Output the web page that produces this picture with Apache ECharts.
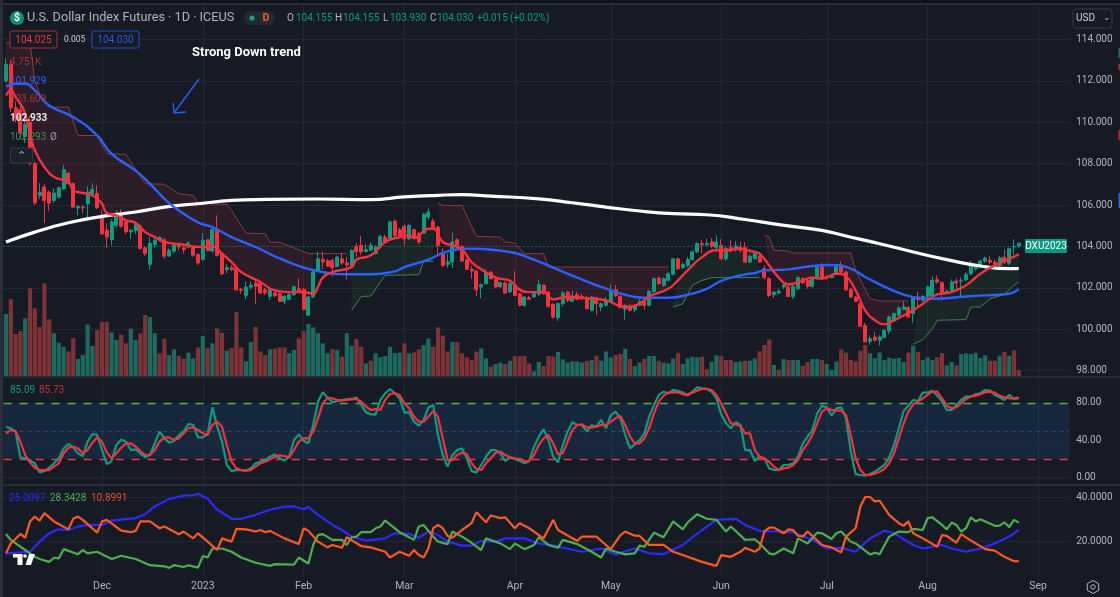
<!DOCTYPE html>
<html>
<head>
<meta charset="utf-8">
<style>html,body{margin:0;padding:0;background:#161a25}#chart{width:1120px;height:597px}</style>
<script src="https://cdn.jsdelivr.net/npm/echarts@6/dist/echarts.min.js"></script>
</head>
<body>
<div id="chart"></div>
<script>
// time axis: bar number of each month start and its label
var monthBars = [20, 41, 62, 83, 106, 126, 149, 171, 192, 215];
var monthTicks = ['Dec', '2023', 'Feb', 'Mar', 'Apr', 'May', 'Jun', 'Jul', 'Aug', 'Sep'];
var lastPrice = 104.03;
var stochHigh = 80, stochMid = 50, stochLow = 20;

// open, close, low, high
var candles = [
[112.0,112.8,111.9,113.1],[112.8,110.7,110.5,113.0],[110.7,110.2,110.0,111.0],[110.6,109.5,109.2,110.8],[109.3,109.9,109.0,110.3],
[110.0,108.0,107.9,110.3],[108.0,106.1,106.0,108.1],[106.46,106.62,106.3,107.06],[106.87,106.22,105.13,107.03],[106.62,106.09,105.7,106.7],
[106.22,106.58,106.1,106.8],[106.38,106.83,106.3,106.9],[106.79,107.7,106.75,107.95],[107.54,107.03,107.0,107.6],[107.03,105.9,105.85,107.1],
[105.85,105.93,105.5,106.0],[105.9,105.85,105.6,106.0],[106.06,106.62,105.22,106.9],[106.5,106.75,106.4,107.05],[106.55,105.87,105.8,106.95],
[105.5,104.6,104.6,105.75],[104.78,104.45,103.93,105.1],[104.32,105.18,104.05,105.3],[105.01,105.58,104.9,105.75],[105.55,104.97,104.9,105.78],
[105.18,104.7,104.6,105.3],[104.69,104.77,104.37,104.85],[104.77,105.1,104.6,105.2],[104.97,103.89,103.85,105.05],[103.93,103.65,103.55,104.0],
[103.13,104.16,102.87,104.45],[104.08,104.29,103.9,104.5],[104.32,104.42,104.3,104.5],[104.32,103.52,103.4,104.4],[103.53,103.8,103.5,103.9],
[103.77,104.13,103.65,104.2],[104.05,103.97,103.8,104.2],[103.93,103.84,103.65,104.05],[103.97,104.16,103.9,104.25],[103.97,103.57,103.5,104.05],
[103.61,103.2,103.1,103.65],[103.37,104.29,103.3,104.65],[104.32,103.8,103.75,104.35],[103.77,104.81,103.7,104.95],[104.81,103.57,103.5,105.5],
[103.65,102.68,102.6,103.7],[102.87,102.97,102.7,103.13],[102.97,102.87,102.8,103.1],[102.92,101.9,101.85,103.0],[101.92,101.87,101.7,102.0],
[101.63,102.03,101.45,102.3],[102.03,102.12,101.9,102.3],[102.23,102.07,101.23,102.4],[102.2,101.75,101.7,102.25],[101.9,101.75,101.65,102.0],
[101.58,101.94,101.4,102.0],[101.75,101.62,101.55,101.9],[101.71,101.34,101.3,101.8],[101.34,101.58,101.2,101.65],[101.44,101.67,101.4,101.75],
[101.67,102.04,101.6,102.12],[101.95,101.83,101.78,102.45],[101.92,100.96,100.9,102.0],[100.67,101.55,100.65,101.6],[101.55,102.76,101.5,102.8],
[102.84,103.4,102.8,103.75],[103.36,103.25,102.9,103.75],[103.3,103.05,103.0,103.4],[103.32,102.97,102.55,103.4],[103.03,103.48,103.0,103.55],
[103.4,103.2,103.1,103.7],[103.2,103.1,102.4,103.5],[103.03,103.8,103.0,103.85],[104.0,103.75,103.5,104.15],[104.05,103.73,103.6,104.5],
[103.75,103.85,103.7,104.1],[103.82,104.05,103.75,104.2],
[103.65,103.97,103.6,104.05],[103.97,104.48,103.9,104.55],[104.45,104.21,104.15,104.55],[104.4,105.18,104.35,105.25],[105.21,104.53,104.45,105.3],
[104.8,104.53,104.45,104.9],[104.97,104.37,104.05,105.05],[104.37,105.01,104.3,105.1],[104.8,104.45,104.4,104.85],[104.61,104.21,104.1,104.7],
[104.64,105.55,104.6,105.6],[105.42,105.66,105.3,105.83],[105.22,104.9,104.85,105.35],[104.93,104.05,103.57,105.0],[103.7,103.08,103.0,103.9],
[103.13,103.24,102.97,103.65],[103.24,104.21,102.97,104.66],[104.32,104.05,104.0,104.4],[104.0,103.29,103.25,104.05],[103.36,102.9,102.85,103.4],
[102.9,102.81,102.45,103.05],[102.81,101.9,101.6,102.85],[102.04,102.15,101.5,102.2],[102.2,102.74,102.15,102.9],[102.76,102.44,102.4,102.8],
[102.39,102.04,102.0,102.45],[102.04,102.25,102.0,102.3],[102.23,101.75,101.7,102.3],[101.8,102.2,101.75,102.25],[102.12,101.63,101.58,102.8],
[101.71,101.15,101.1,101.75],[101.15,101.55,101.07,101.6],[101.52,101.44,101.4,101.6],[101.55,101.71,101.5,101.75],[101.68,102.16,101.6,102.4],
[102.12,101.71,101.65,102.15],[101.79,101.1,101.03,101.85],[101.2,100.59,100.5,101.25],[100.55,101.23,100.4,101.3],[101.23,101.75,101.1,101.85],
[101.79,101.39,101.3,101.85],[101.34,101.6,101.3,101.87],[101.66,101.44,101.4,101.8],[101.58,101.47,101.4,101.7],[101.52,100.99,100.95,101.6],
[100.91,101.55,100.85,101.6],[101.52,101.23,100.67,101.55],[101.07,101.23,100.87,101.3],[101.15,101.34,101.1,101.55],[101.34,101.9,101.3,102.15],
[101.9,101.63,101.55,102.13],[101.58,101.04,101.0,101.65],[100.96,101.15,100.46,101.2],[101.1,100.91,100.85,101.2],[100.94,101.1,100.8,101.15],
[101.15,101.34,101.1,101.45],[101.36,101.15,100.95,101.45],[101.15,101.82,101.1,101.9],[101.82,102.44,101.75,102.5],[102.47,102.2,102.15,102.55],
[102.12,102.44,102.05,102.5],[102.36,102.68,102.3,102.75],[102.65,103.4,102.6,103.45],[103.4,102.92,102.85,103.45],[102.97,103.13,102.9,103.2],
[103.08,103.36,103.0,103.5],[103.36,103.73,103.3,103.8],[103.73,104.13,103.7,104.2],[104.13,104.08,103.65,104.3],[104.08,104.13,104.0,104.35],
[104.21,104.0,103.9,104.4],[103.94,104.21,103.85,104.53],[104.05,103.4,103.35,104.35],[103.4,103.89,103.3,104.0],[103.94,103.84,103.7,104.3],
[103.84,104.02,103.75,104.25],[103.97,103.81,103.7,104.2],[103.94,103.24,103.2,104.2],
[103.24,103.52,103.2,103.6],[103.4,103.65,103.35,103.75],[103.53,103.24,103.2,103.6],[102.92,102.49,102.4,103.07],[102.44,101.63,101.55,102.5],
[101.66,101.79,101.5,101.85],[101.75,101.83,101.7,101.95],[102.04,102.12,101.95,102.25],[102.04,101.58,101.55,102.1],[101.58,102.07,101.45,102.15],
[101.95,102.49,101.9,102.55],[102.44,102.23,102.2,102.5],[102.36,102.07,101.95,102.45],[102.07,102.49,102.0,102.55],[102.49,102.97,102.4,103.05],
[103.0,102.44,102.4,103.2],[102.55,102.47,102.4,102.6],[102.49,102.55,102.45,102.65],[102.65,103.0,102.6,103.1],[103.0,102.76,102.7,103.27],
[102.76,101.9,101.85,102.8],[101.92,101.55,101.5,102.0],[101.55,101.34,101.3,101.6],[101.23,100.14,100.1,101.3],[100.18,99.38,99.35,100.3],
[99.41,99.54,99.25,99.7],[99.62,99.46,99.4,99.85],[99.46,99.62,99.2,99.7],[99.59,99.94,99.55,100.0],[99.91,100.59,99.75,100.65],
[100.39,100.75,100.35,100.8],[100.67,101.02,100.6,101.1],[100.96,101.07,100.9,101.35],[101.04,100.59,100.55,101.1],[100.75,101.55,100.3,101.6],
[101.55,101.42,101.05,101.8],[101.39,101.58,101.35,101.65],[101.58,102.04,101.5,102.1],[101.63,102.36,101.6,102.55],[102.39,102.28,102.2,102.6],
[102.25,101.71,101.5,102.3],[101.75,101.83,101.7,101.9],[101.87,102.28,101.8,102.4],[102.32,102.23,101.95,102.45],[102.33,102.36,101.55,102.5],
[102.39,102.65,102.3,102.75],[102.68,103.08,102.6,103.3],[102.92,103.03,102.85,103.15],[103.03,103.29,102.95,103.35],[103.29,103.44,103.2,103.5],
[103.32,103.24,103.15,103.55],[103.24,103.16,103.05,103.35],[103.08,103.44,102.85,103.55],[103.48,103.24,103.15,103.85],[103.19,103.89,103.1,103.95],
[103.97,104.0,103.6,104.34],[104.03,104.155,103.93,104.155]
];

// volume in thousands, and the colour side of each volume bar
var volumes = [
49.1,61,33.3,35.6,45.7,69.7,53.6,38.8,73.4,44.9,33.8,26.4,23.2,19.5,30.1,13.5,16.6,40.7,23.8,36.4,
42.8,42.8,34.6,28.5,32.7,25.9,37.5,28.5,33.8,48.3,46.7,33.8,18,29.6,16.6,21.1,16.1,13.7,18.5,14,
22.7,31.7,22.2,25.9,37.8,34.3,20.1,22.2,50.7,22.7,11.6,26.9,38.8,19.5,16.6,21.1,21.6,22.7,22.7,18,
20.6,29.8,35.6,41.2,38.5,33.8,25.9,18,21.4,20.6,15.3,33.8,24,29.3,23.2,10,12.1,
18,14.8,15.8,23.2,18,18.5,25.9,18,18.7,21.1,24.6,29.8,23.2,38.5,31.9,19.5,26.9,26.9,18,14.8,
12.7,19.3,21.9,14,7.4,9.5,10.6,9.5,12.1,15.8,15.6,15.8,10,3.7,11.1,7.9,15.8,15.3,19,13.2,
10.6,11.6,11.4,10.6,11.9,12.7,16.1,12.1,19.5,14.8,16.6,17.4,21.6,13.5,7.9,10.6,13.5,15.8,15.8,12.1,
10.6,10,14,18.5,9.5,14,15.3,14.8,15.3,5.3,11.4,16.4,15.8,12.7,12.7,11.1,11.6,12.1,
12.1,14,19.5,24.6,29,8.7,4.8,13.5,12.7,12.7,12.7,8.2,11.1,13.5,13.5,12.7,9.5,4.8,11.4,21.1,
18.5,12.7,11.6,20.1,24.6,18,14,18.7,12.7,14.5,13.7,14.3,11.1,18.5,24,19,12.7,14.8,12.7,14.8,
18.2,8.4,11.1,8.4,17.4,18,17.4,18.5,14.3,16.4,12.1,12.1,16.1,19,16.1,20.3,4.751
];
var volumeSide =
  'grrrgrrrrr' + 'gggrrggggr' + 'rrggrrggrr' + 'ggrrggrrgg' + 'rgrgrrgrrr' + 'ggrrrgrrrg' + 'grrgggggrg' + 'rggrrgr' +
  'ggggggrgrr' + 'ggrrrrgrrr' + 'rrggrggrgr' + 'rrrggrrrgg' + 'ggggrgrggg' + 'rrgrggrggr' + 'gggrggggrr' + 'ggrrrggr' +
  'ggrrrgrgrg' + 'grrggrgggr' + 'rrrrrggggg' + 'gggrgrgggr' + 'rggrgggggg' + 'rrgrgrr';

// moving averages as [bar, price] at the bends of each line
var whiteLine = [[0,104.21],[6,104.69],[13,105.14],[20,105.45],[27,105.66],[33,105.9],[40,106.06],[47,106.22],[54,106.27],[65,106.29],[76,106.26],
[83,106.39],[90,106.47],[95,106.5],[101,106.43],[111,106.3],[118,106.11],[125,105.9],[132,105.71],[139,105.58],[146,105.53],[154,105.3],
[161,105.05],[170,104.77],[175,104.5],[182,104.13],[189,103.73],[196,103.36],[203,103.05],[209,102.92],[211,102.93]];
var blueLine = [[0,111.73],[2,111.86],[4,111.86],[6,111.54],[9,110.81],[14,110.25],[19,109.36],[22,108.47],[27,107.66],[30,107.02],[33,106.3],[35,105.9],
[40,105.16],[43,104.93],[47,104.45],[52,103.97],[58,103.32],[65,102.8],[72,102.65],[76,102.65],[81,102.79],[83,103.0],[88,103.36],[92,103.76],[97,103.89],
[101,103.84],[106,103.68],[110,103.36],[114,102.97],[119,102.49],[124,102.04],[129,101.66],[133,101.52],[138,101.52],[142,101.66],[146,101.95],[149,102.33],[154,102.65],
[156,102.71],[158,102.84],[163,102.89],[168,103.05],[172,103.1],[176,102.92],[179,102.52],[184,101.95],[189,101.55],[193,101.47],[200,101.58],[204,101.63],[209,101.71],[211,101.93]];
var redLine = [[0,111.29],[1,111.54],[2,111.21],[3,110.89],[4,110.41],[5,109.44],[6,108.64],[8,107.83],[10,107.35],[13,107.11],[14,106.7],
[15,106.62],[18,106.46],[20,106.06],[21,105.61],[23,105.5],[25,105.26],[27,105.14],[29,104.69],[31,104.45],[33,104.21],[37,104.08],[40,103.97],[41,103.97],[43,104.0],
[45,103.65],[47,103.24],[49,102.76],[53,102.28],[56,101.87],[59,101.79],[62,101.79],[64,101.71],[65,102.04],[66,102.49],[68,102.76],[72,103.0],[73,103.36],[76,103.57],
[79,104.21],[82,104.45],[84,104.53],[85,104.4],[88,104.85],[89,104.85],[91,104.21],[93,104.05],[95,103.84],[97,103.24],[99,102.89],[102,102.49],[105,102.33],[107,101.91],
[109,101.79],[112,101.79],[114,101.44],[117,101.55],[122,101.47],[125,101.39],[129,101.07],[132,101.23],[134,101.58],[138,101.95],[140,102.36],[142,102.84],[145,103.48],
[148,103.81],[150,103.81],[153,103.89],[154,103.84],[156,103.73],[157,103.65],[159,103.08],[161,102.49],[163,102.16],[166,102.36],[168,102.49],[170,102.44],[173,102.68],
[175,102.55],[177,101.87],[179,100.91],[181,100.43],[183,100.23],[185,100.43],[188,100.78],[190,101.07],[192,101.39],[194,101.68],[197,101.79],[200,102.12],[203,102.68],
[206,103.08],[209,103.4],[211,103.61]];

// thin stop lines above and below price, as [bar, price]
var stopRed1 = [[0,113.84],[5,113.84],[6,112.02],[7,111.38],[9,110.73],[13,110.73],[15,109.36],[19,109.36],[21,108.48],[25,108.45],[29,107.03],[33,107.0],[36,106.55],[39,106.46],
[40,106.09],[46,106.03],[47,105.74],[50,104.64],[54,104.61],[55,104.2],[57,104.2],[63,103.65],[64,103.65],[71,103.65]];
var stopGreen1 = [[72,100.91],[74,101.58],[76,101.6],[79,102.6],[86,102.63],[87,103.28],[89,103.28]];
var stopRed2 = [[90,106.11],[91,105.98],[95,105.98],[98,104.48],[103,104.45],[104,104.21],[106,104.16],[108,103.65],[112,103.65],[113,103.0],[138,103.0]];
var stopGreen2 = [[139,101.07],[141,101.23],[143,102.12],[145,102.36],[147,102.49],[157,102.49]];
var stopRed3 = [[158,104.53],[159,104.45],[160,103.81],[163,103.77],[164,103.68],[176,103.68],[177,102.84],[180,101.47],[182,101.36],[188,101.36]];
var stopGreen3 = [[189,99.27],[191,99.49],[193,100.02],[194,100.43],[200,100.46],[201,101.07],[203,101.07],[205,101.47],[208,101.68],[210,102.12],[211,102.29]];

// stochastic, one value per bar
var stochK = [54.6,52.9,49.3,21.4,20.7,18.9,15.4,5.7,7.1,10.7,15.4,20.7,31.4,36.1,32.5,26.1,23.2,38.6,46.8,45.7,29.6,14.6,17.9,35,40.7,38.6,29.6,30.4,26.1,22.1,24.3,36.8,49.3,42.1,37.5,39.3,45.7,49.3,57.5,56.4,43.2,43.2,46.4,75.4,54.6,38.6,13.6,7.1,8.2,8.2,7.5,10,15.4,17.1,18.9,22.5,25,20.7,18.2,22.5,40.4,46.4,39.6,36.8,56.4,81.4,91.4,85.7,80.7,82.1,83.2,83.9,84.3,85.7,77.9,70,67.9,
67.9,83.2,90.4,95,90.4,85,69.6,70,60,55.7,61.8,75,77.9,45.7,24.3,11.8,24.3,29.6,31.4,20.7,7.1,5.7,13.6,22.5,29.6,29.6,26.1,17.9,21.4,20,17.9,15.4,17.9,33.2,43.9,51.8,40.4,22.5,16.4,35,49.3,59.3,56.4,56.4,49.3,56.4,54.6,61.8,52.9,67.1,70.7,63.6,45.7,31.4,35.7,40.4,47.5,65.4,77.9,88.6,92.1,90.4,93.9,92.9,91.4,87.9,92.1,96.8,95.7,95,92.1,85,67.9,58.2,52.9,59.3,56.4,29.6,
29.6,17.9,22.5,20.7,10,8.2,8.2,13.6,13.6,15.4,22.5,36.8,43.9,51.1,68.9,76.8,75.4,66.4,74.3,75.4,63.6,27.9,3.9,2.9,2.1,3.9,6.4,10,13.6,21.4,35,52.9,71.4,77.1,83.2,82.1,91.1,91.1,93.2,87.9,81.4,72.5,72.5,77.9,83.2,86.8,86.8,89.3,90.4,93.9,93.2,88.6,86.1,83.2,88.6,84.3,85.09];
var stochD = [47.5,51.1,50,38.6,24.3,16.4,10.7,8.2,8.2,8.2,11.8,15.4,26.1,32.1,33.2,31.4,26.1,29.6,37.5,43.2,38.6,27.1,20.7,26.1,32.1,36.8,36.8,33.2,28.6,24.3,24.3,29.6,38.6,43.2,43.2,40.4,42.1,47.5,52.9,53.9,51.1,47.5,45.7,56.4,60,54.6,35,17.1,10,8.2,7.5,8.2,11.8,15.4,17.1,19.6,22.5,23.9,23.2,21.8,29.6,38.6,42.1,42.1,49.3,63.6,79.6,85.7,85,83.2,82.5,83.2,83.9,84.3,81.4,76.1,72.5,
73.6,72.5,83.2,89.6,90.4,88.6,79.6,74.3,65.4,60,60,65.4,71.4,65.4,42.1,18.9,18.9,24.3,26.8,25,15.4,9.3,8.2,15.4,20.7,26.8,27.9,24.3,21.8,20.7,20,17.9,17.9,24.3,35,42.1,45.7,36.8,25,26.1,38.6,51.1,56.4,57.1,53.9,53.9,54.6,56.4,56.4,60,63.6,66.1,56.4,43.9,36.8,36.8,42.1,52.9,68.9,81.4,87.9,91.1,91.4,91.4,89.3,89.3,91.1,93.2,95,95,93.9,88.6,79.6,68.9,58.2,57.1,55.4,47.5,
47.5,29.6,22.5,20.7,17.1,11.8,8.2,10,10.7,13.6,18.9,29.6,36.8,45.7,58.2,70.7,74.3,72.5,71.8,71.8,67.1,45.7,20.7,8.2,2.9,2.9,4.3,6.4,9.3,15.4,26.1,42.1,58.2,70.7,78.6,81.4,85,88.6,92.1,92.1,85,77.1,74.3,75.4,79.6,84.3,86.8,87.9,89.3,91.4,92.1,91.1,87.9,86.1,85,85,85.73];

// directional movement lines as [bar, value] at their vertices
var adxBlue = [[0,14.4],[5,15.1],[7,19.7],[9,23.5],[11,25.3],[13,25],[15,26.6],[17,27.3],[20,27.3],[22,29.3],[27,30.4],[29,32.2],[31,35.7],[34,39.1],[37,40.6],[39,40.8],[40,41.5],[42,39.2],[44,34.2],[47,30.1],[49,30.1],[52,31.9],[55,34.2],[58,35.6],[60,35.7],[62,34.4],[63,35.4],[65,31.9],[68,27.3],[70,25],[72,22],[75,20.2],
[79,21.2],[81,23.5],[84,23.2],[86,21.5],[88,24.3],[90,22.7],[92,19.7],[95,17.9],[97,17.9],[99,20],[102,19.7],[104,21.2],[108,21.2],[111,18.9],[114,17.9],[120,15.1],[124,16.6],[127,13.9],[131,16.6],[134,14.4],[137,14],[141,18.2],[145,25],[148,29.6],[152,30.1],[154,27.3],
[157,24.6],[161,24.3],[164,24],[168,20.5],[171,16.6],[174,16.9],[177,15.1],[180,21.2],[183,24.7],[185,23.5],[189,18.2],[191,16.6],[195,18.2],[197,16.6],[200,15.1],[203,16.6],[206,18.9],[209,22],[211,25.01]];
var adxGreen = [[0,23.2],[1,20.5],[3,17.4],[4,15.9],[5,14.4],[6,12.8],[7,11.8],[9,10.5],[10,12.4],[11,12.1],[12,16.3],[14,14.8],[15,14],[16,15.9],[17,14.4],[19,15.1],[22,11.8],[24,13.3],[27,11.8],[30,9],[33,8.5],[34,7.8],[35,9],[37,8.2],[38,9],[40,7.9],[41,13.1],[42,12.5],[43,16.6],[45,16.6],[47,15.1],[49,12.5],[52,10.1],[55,8.7],[56,9.5],[60,9.3],[61,12.5],[63,9.8],[64,18.2],[65,22.7],[66,23.1],[68,20.5],[70,20.5],[71,18.2],[72,21.7],[73,22],[74,24],[76,24],
[77,25.8],[78,26.6],[79,29.3],[82,24],[85,20.5],[86,26.6],[87,27.3],[89,22],[90,19.7],[92,18.6],[93,24.3],[95,22],[97,19.2],[99,15.9],[100,21.2],[103,18.9],[105,16.3],[106,18.9],[108,16.3],[110,18.2],[111,21.7],[113,18.2],[115,16.9],[116,20.5],[119,18.6],[122,15.1],[124,12.5],[125,16.6],[127,15.1],[129,13.9],[131,14.4],[132,17.9],[133,17.4],[135,23.8],[137,21.7],[139,28.9],[141,25.3],[142,28.4],[144,32.2],[146,30.1],[148,29.6],[150,24.3],[151,26.6],[154,20.5],
[156,20.8],[157,18.9],[159,14.4],[160,13.9],[162,16.6],[164,14.4],[165,21.2],[167,18.9],[169,23.8],[170,23.5],[172,20.9],[173,23.5],[174,24.3],[176,19.7],[177,18.9],[180,13.9],[181,14.7],[182,14],[184,22],[186,24.3],[188,24],[189,25.5],[191,25],[192,30.4],[193,30.7],[195,27.3],[196,25.3],[197,28.4],[198,27.3],[199,24.3],[200,25.8],[201,30.7],[202,28.9],[203,29.9],[206,26.9],[207,27],[208,28.5],[209,26.3],[210,29.6],[211,28.34]];
var adxOrange = [[0,14.4],[1,18.9],[3,23.2],[4,21.5],[5,28.9],[6,31.1],[7,29.3],[8,32.7],[10,28.9],[13,25.3],[14,30.1],[15,31.1],[16,29.6],[19,23.8],[20,28.9],[21,29.6],[24,24.7],[26,24],[27,24.6],[28,28.9],[30,28.9],[32,25.8],[33,26.6],[36,23.1],[37,24.3],[39,21.2],[40,23.5],[42,19.7],[44,15.9],[45,21.2],[47,19.7],[48,25.5],[50,25.3],[52,24.3],[53,25],[54,24],[55,24.6],[58,21.2],[61,18.6],[62,25.8],[63,24.6],[65,19.7],[67,17.1],[68,18.2],[70,16.9],[71,21.7],[74,17.7],[76,17.1],
[79,15.1],[80,12.5],[82,15.1],[84,13.3],[85,15.9],[86,13.6],[87,12.5],[88,16.6],[89,25.8],[90,27.3],[91,25.8],[92,22.3],[93,21.5],[95,25],[97,28.1],[98,33.1],[100,28.5],[101,31.6],[103,30.4],[104,30.8],[106,25.8],[107,28.1],[109,25.8],[112,21.2],[114,29.6],[115,25],[119,20],[120,22],[123,22],[125,18.2],[126,16.3],[128,22.7],[129,24.3],[131,22.4],[132,22.3],[134,18.2],[137,18.2],[139,15.1],[141,13.6],[145,10.5],[148,8.7],[149,13.6],[151,12.8],[153,15.1],[154,16.9],
[156,15.1],[157,16.6],[158,24.3],[159,26.1],[160,26.1],[162,23.5],[163,25.3],[164,25],[165,22.4],[166,22],[167,24.3],[169,20.2],[170,18.2],[172,17.1],[174,14.8],[175,22],[177,25.8],[178,35.7],[179,40],[180,40],[181,38],[182,38.3],[184,31.9],[186,28.1],[187,26.9],[188,28.9],[189,23.5],[191,21.2],[194,17.4],[195,22.7],[196,22.3],[198,19.2],[199,23.1],[201,20.2],[204,16.3],[206,15.6],[208,12.8],[210,10.8],[211,10.89]];

var barCount = 222;
var categories = [];
for (var n = 0; n < barCount; n++) {
    var at = monthBars.indexOf(n);
    categories.push(at >= 0 ? monthTicks[at] : '');
}

var uiFont = 'Roboto';
var gridColor = '#232733';
var axisColor = '#b2b5be';
var upColor = '#0d9c80';
var downColor = '#f7323f';

var left = 3.6, plotWidth = 1065.6;
var isMonth = function (i) { return monthBars.indexOf(i) >= 0; };

function xAxisFor(gridIndex, lines, labels) {
    return {
        type: 'category', gridIndex: gridIndex, data: categories,
        axisLine: {show: false}, axisTick: {show: false},
        axisLabel: {show: labels, interval: isMonth, color: axisColor, fontFamily: uiFont, fontSize: 10.5, margin: 4},
        splitLine: {show: lines, interval: isMonth, alignWithLabel: true, lineStyle: {color: gridColor, width: 1}}
    };
}

function yAxisFor(gridIndex, min, max, interval, fmt) {
    return {
        type: 'value', gridIndex: gridIndex, position: 'right', min: min, max: max, interval: interval,
        axisLine: {show: false}, axisTick: {show: false},
        axisLabel: {color: axisColor, fontFamily: uiFont, fontSize: 10, margin: 7, padding: [3, 0, 0, 0], formatter: fmt},
        splitLine: {show: false}
    };
}

function thin(name, data, color) {
    return {name: name, type: 'line', xAxisIndex: 1, yAxisIndex: 1, data: data, symbol: 'none', silent: true,
        lineStyle: {color: color, width: 1}, z: 3};
}

function thick(name, data, color, width) {
    return {name: name, type: 'line', xAxisIndex: 1, yAxisIndex: 1, data: data, symbol: 'none', smooth: true, silent: true,
        lineStyle: {color: color, width: width}, z: 6};
}

// shaded area between a stop line and the red average
var redFill = 'rgba(242,54,69,0.105)', greenFill = 'rgba(76,175,80,0.08)';
var bands = [
    {stop: stopRed1, end: 64, fill: redFill},
    {stop: stopGreen1, end: 89, fill: greenFill},
    {stop: stopRed2, end: 138, fill: redFill},
    {stop: stopGreen2, end: 157, fill: greenFill},
    {stop: stopRed3, end: 188, fill: redFill},
    {stop: stopGreen3, end: 211, fill: greenFill}
];

function drawBand(params, api) {
    var b = bands[params.dataIndex];
    var start = b.stop[0][0];
    var top = b.stop.filter(function (p) { return p[0] <= b.end; });
    var under = redLine.filter(function (p) { return p[0] >= start && p[0] <= b.end; }).reverse();
    var pts = top.concat(under).map(function (p) { return api.coord(p); });
    return {type: 'polygon', shape: {points: pts}, style: {fill: b.fill}};
}

function levelLine(value, color, type, width) {
    return {yAxis: value, lineStyle: {color: color, type: type, width: width}};
}

// header text, value tags and the other screen furniture
function chrome() {
    function txt(x, y, text, color, size, weight, align) {
        return {type: 'text', z: 100, x: x, y: y, style: {text: text, fill: color, fontFamily: uiFont, fontSize: size || 10,
            fontWeight: weight || 'normal', textAlign: align || 'left', textVerticalAlign: 'middle'}};
    }
    function box(x, y, w, h, fill, stroke, r) {
        return {type: 'rect', z: 99, shape: {x: x, y: y, width: w, height: h, r: r || 0}, style: {fill: fill, stroke: stroke || null, lineWidth: 1}};
    }
    function seg(x1, y1, x2, y2, color, width) {
        return {type: 'line', z: 99, shape: {x1: x1, y1: y1, x2: x2, y2: y2}, style: {stroke: color, lineWidth: width}};
    }
    var up = '#0d9c80', dn = '#f23645';
    return [
        box(0, 0, 1120, 3, '#0f121a'), box(0, 3, 1120, 2, '#2a2e39'), box(0, 0, 3, 597, '#2a2e39'),
        box(3.6, 376, 1116.4, 1.5, '#2a2e39'), box(3.6, 484, 1116.4, 2, '#2a2e39'),
        box(1118.5, 48, 1.5, 10, '#2d6b5e'), box(1118.5, 64, 1.5, 6, '#b02a37'), box(1118.5, 130, 1.5, 10, '#b02a37'), box(1118.5, 193, 1.5, 15, '#2962ff'),
        {type: 'circle', z: 99, shape: {cx: 17, cy: 18, r: 7}, style: {fill: '#0f8f78'}},
        txt(17, 18.5, '$', '#fff', 10.5, 'bold', 'center'),
        txt(27, 18, 'U.S. Dollar Index Futures · 1D · ICEUS', '#b2b5be', 12.7),
        box(244, 11, 31, 14, '#1f2b30', null, 7),
        {type: 'circle', z: 100, shape: {cx: 252, cy: 18, r: 2.6}, style: {fill: '#12a385'}},
        txt(266, 18, 'D', '#ff5a2c', 10.5, 'bold', 'center'),
        txt(287, 18, 'O', '#b2b5be'), txt(296, 18, '104.155', up),
        txt(335, 18, 'H', '#b2b5be'), txt(343, 18, '104.155', up),
        txt(383, 18, 'L', '#b2b5be'), txt(390, 18, '103.930', up),
        txt(430, 18, 'C', '#b2b5be'), txt(437, 18, '104.030', up),
        txt(477, 18, '+0.015', up), txt(510, 18, '(+0.02%)', up),
        box(10, 31, 47, 17, '#161a25', '#a3313c', 2), txt(33.5, 40, '104.025', dn, 10, 'normal', 'center'),
        txt(64, 40, '0.005', '#c9ccd4', 8.5),
        box(92, 31, 47, 17, '#161a25', '#2350c8', 2), txt(115.5, 40, '104.030', '#2e5fe0', 10, 'normal', 'center'),
        txt(10, 62, '4.751K', '#9c3b3c'), txt(10, 81, '101.929', '#2962ff'), txt(10, 99, '103.609', '#a33c40'),
        txt(10, 118, '102.933', '#e8e8e8', 10, 'bold'), txt(10, 137, '102.293', '#3f8f50'), txt(50, 137, 'Ø', '#9598a1'),
        box(10.5, 148, 22, 15, '#1c2029', '#363a45', 2), txt(21.5, 156, '⌃', '#b2b5be', 11, 'normal', 'center'),
        txt(192, 53, 'Strong Down trend', '#ffffff', 13, 'bold'),
        seg(199, 79, 174, 113, '#2962ff', 1.3), seg(174, 113, 173, 103, '#2962ff', 1.3), seg(174, 113, 186, 112, '#2962ff', 1.3),
        box(1073, 9, 39, 19, '#161a25', '#363a45', 3), txt(1076, 18.5, 'USD', '#d1d4dc', 10),
        txt(1106.5, 18, '⌄', '#b2b5be', 9, 'normal', 'center'),
        box(1025, 239, 42, 14, '#089981', null, 1), txt(1046, 246.5, 'DXU2023', '#ffffff', 10, 'normal', 'center'),
        txt(10, 390, '85.09', up), txt(39, 390, '85.73', '#c4343f'),
        txt(9, 498, '25.0097', '#2b2bff'), txt(50, 498, '28.3428', '#4caf50'), txt(91, 498, '10.8991', '#d9542c'),
        {type: 'polygon', z: 100, shape: {points: [[13, 554], [22.5, 554], [22.5, 565], [17.5, 565], [17.5, 557.5], [13, 557.5]]}, style: {fill: '#fff'}},
        {type: 'circle', z: 100, shape: {cx: 25, cy: 556, r: 1.8}, style: {fill: '#fff'}},
        {type: 'polygon', z: 100, shape: {points: [[29, 554], [35, 554], [31, 565], [25.5, 565]]}, style: {fill: '#fff'}},
        {type: 'polygon', z: 100, shape: {points: [[1093, 580.5], [1098.7, 583.7], [1098.7, 590.3], [1093, 593.5], [1087.3, 590.3], [1087.3, 583.7]]}, style: {fill: 'none', stroke: '#b2b5be', lineWidth: 1}},
        {type: 'circle', z: 100, shape: {cx: 1093, cy: 587, r: 2.2}, style: {fill: 'none', stroke: '#b2b5be', lineWidth: 1}}
    ];
}

var option = {
    backgroundColor: '#161a25',
    animation: false,
    grid: [
        {left: left, width: plotWidth, top: 5, height: 371},
        {left: left, width: plotWidth, top: 39.5, height: 331},
        {left: left, width: plotWidth, top: 378, height: 106},
        {left: left, width: plotWidth, top: 384.3, height: 93.4},
        {left: left, width: plotWidth, top: 486, height: 91},
        {left: left, width: plotWidth, top: 453, height: 132}
    ],
    xAxis: [
        xAxisFor(0, true, false), xAxisFor(1, false, false),
        xAxisFor(2, true, false), xAxisFor(3, false, false),
        xAxisFor(4, true, true), xAxisFor(5, false, false)
    ],
    yAxis: [
        {type: 'value', gridIndex: 0, min: 0, max: 294, show: false, splitLine: {show: false}},
        Object.assign(yAxisFor(1, 98, 114, 2, function (v) { return v.toFixed(3); }), {splitLine: {show: true, lineStyle: {color: gridColor}}}),
        {type: 'value', gridIndex: 2, show: false, splitLine: {show: false}},
        yAxisFor(3, 0, 100, 40, function (v) { return v === 100 ? '' : v.toFixed(2); }),
        {type: 'value', gridIndex: 4, show: false, splitLine: {show: false}},
        yAxisFor(5, 0, 60, 20, function (v) { return v === 20 || v === 40 ? v.toFixed(4) : ''; })
    ],
    series: [
        {
            name: 'Volume', type: 'bar', xAxisIndex: 0, yAxisIndex: 0, barWidth: 4.2, silent: true, z: 2,
            data: volumes.map(function (v, i) {
                return {value: v, itemStyle: {color: volumeSide.charAt(i) === 'g' ? '#1d6a60' : '#7e3337'}};
            })
        },
        {
            name: 'Bands', type: 'custom', xAxisIndex: 1, yAxisIndex: 1, renderItem: drawBand, silent: true, z: 2,
            data: bands.map(function (b) { return b.stop[0]; }), encode: {x: 0, y: 1}
        },
        thin('Stop 1', stopRed1, '#8f3a3e'), thin('Stop 2', stopGreen1, '#44844f'),
        thin('Stop 3', stopRed2, '#8f3a3e'), thin('Stop 4', stopGreen2, '#44844f'),
        thin('Stop 5', stopRed3, '#8f3a3e'), thin('Stop 6', stopGreen3, '#44844f'),
        {
            name: 'DXU2023', type: 'candlestick', xAxisIndex: 1, yAxisIndex: 1, data: candles, barWidth: 3.4, silent: true, z: 4,
            itemStyle: {color: upColor, color0: downColor, borderColor: upColor, borderColor0: downColor, borderWidth: 1},
            markLine: {
                silent: true, symbol: 'none', label: {show: false},
                data: [{yAxis: lastPrice, lineStyle: {color: '#0d8a70', type: [1, 3], width: 1}}]
            }
        },
        thick('White average', whiteLine, '#ffffff', 3.2),
        thick('Blue average', blueLine, '#2962ff', 2.4),
        thick('Red average', redLine, '#f7323f', 2.4),
        {
            name: '%K', type: 'line', xAxisIndex: 3, yAxisIndex: 3, data: stochK, symbol: 'none', silent: true, z: 6,
            lineStyle: {color: '#0d9c80', width: 2.2},
            markArea: {silent: true, itemStyle: {color: 'rgba(33,150,243,0.12)'}, data: [[{yAxis: stochLow}, {yAxis: stochHigh}]]},
            markLine: {
                silent: true, symbol: 'none', label: {show: false},
                data: [
                    levelLine(stochHigh, '#4caf50', [8, 8], 1.4),
                    levelLine(stochLow, '#f23645', [8, 8], 1.4),
                    levelLine(stochMid, '#434753', [4, 4], 1),
                    levelLine(40, gridColor, 'solid', 1),
                    levelLine(0, gridColor, 'solid', 1)
                ]
            }
        },
        {name: '%D', type: 'line', xAxisIndex: 3, yAxisIndex: 3, data: stochD, symbol: 'none', silent: true, z: 7, lineStyle: {color: '#f7323f', width: 2.2}},
        {
            name: 'ADX', type: 'line', xAxisIndex: 5, yAxisIndex: 5, data: adxBlue, symbol: 'none', silent: true, z: 6,
            lineStyle: {color: '#2b2bff', width: 2.2},
            markLine: {silent: true, symbol: 'none', label: {show: false}, data: [levelLine(20, gridColor, 'solid', 1), levelLine(40, gridColor, 'solid', 1)]}
        },
        {name: 'DI+', type: 'line', xAxisIndex: 5, yAxisIndex: 5, data: adxGreen, symbol: 'none', silent: true, z: 6, lineStyle: {color: '#4caf50', width: 2.2}},
        {name: 'DI-', type: 'line', xAxisIndex: 5, yAxisIndex: 5, data: adxOrange, symbol: 'none', silent: true, z: 7, lineStyle: {color: '#ff5a1f', width: 2.2}}
    ],
    graphic: {elements: chrome()}
};

var chart = echarts.init(document.getElementById('chart'));
chart.setOption(option);
</script>
</body>
</html>
